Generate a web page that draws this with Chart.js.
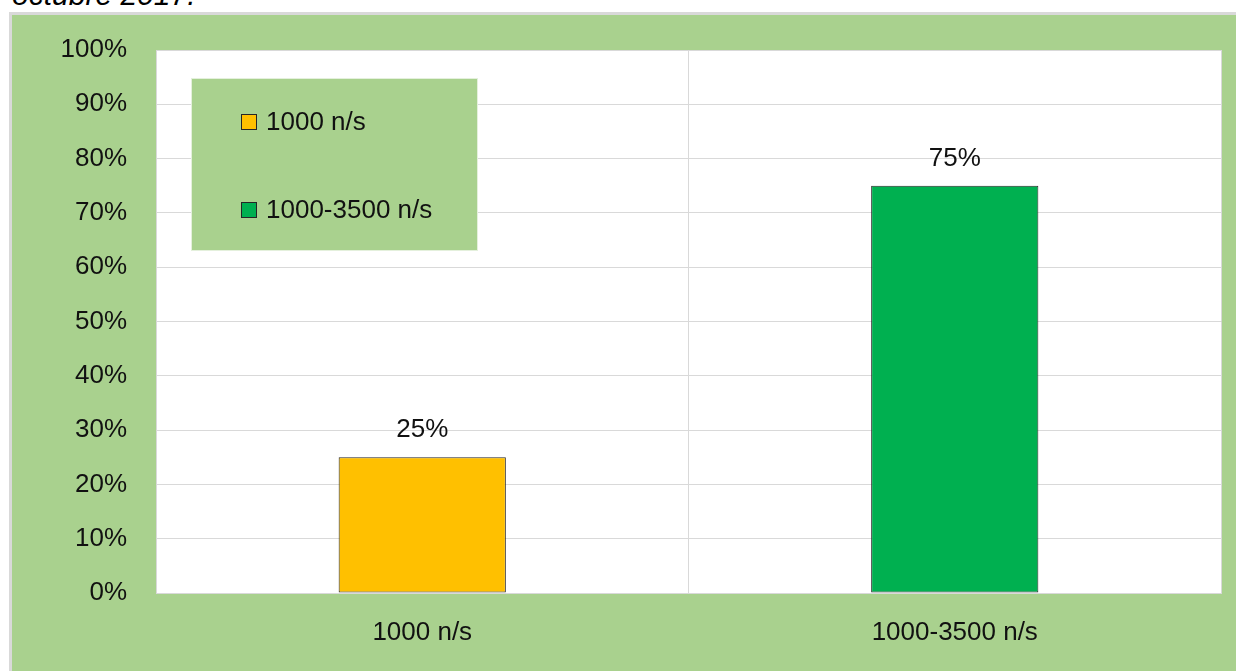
<!DOCTYPE html>
<html>
<head>
<meta charset="utf-8">
<script src="https://cdn.jsdelivr.net/npm/chart.js@4.4.1/dist/chart.umd.min.js"></script>
<style>
  html, body { margin: 0; padding: 0; background: #fff; overflow: hidden; }
  #caption { position: absolute; left: 12px; top: -20px; font: italic 30px "Liberation Sans", Arial, sans-serif; line-height: 30px; color: #000; white-space: nowrap; }
  #panel { position: absolute; left: 9px; top: 12px; width: 1240px; height: 700px; background: #A9D18E; border: 3px solid #D9D9D9; }
  #wrap { position: absolute; left: 0; top: 0; width: 1236px; height: 671px; }
</style>
</head>
<body>
<div id="caption">octubre 2017.</div>
<div id="panel"></div>
<div id="wrap"><canvas id="chart" width="1236" height="671"></canvas></div>
<script>
const FONT = "'Liberation Sans', Arial, sans-serif";
const SIZE = 26;
const TEXT = "#111";

const categories = ["1000 n/s", "1000-3500 n/s"];
const shares = [25, 75];
const barColors = ["#FFC000", "#00B050"];
const yTicks = [0, 10, 20, 30, 40, 50, 60, 70, 80, 90, 100];

// white plot area on the green panel
const plotBg = {
  id: "plotBg",
  beforeDraw(chart) {
    const { ctx, chartArea: a } = chart;
    ctx.save();
    ctx.fillStyle = "#fff";
    ctx.fillRect(a.left, a.top, a.width, a.height);
    ctx.restore();
  }
};

// values over the bars
const valueLabels = {
  id: "valueLabels",
  afterDatasetsDraw(chart) {
    const { ctx } = chart;
    const meta = chart.getDatasetMeta(0);
    ctx.save();
    ctx.font = `${SIZE}px ${FONT}`;
    ctx.fillStyle = TEXT;
    ctx.textAlign = "center";
    ctx.textBaseline = "middle";
    meta.data.forEach((bar, i) => ctx.fillText(shares[i] + "%", bar.x, bar.y - 27));
    ctx.restore();
  }
};

// legend box sitting inside the plot area
const boxLegend = {
  id: "boxLegend",
  afterDraw(chart) {
    const { ctx, chartArea: a } = chart;
    const x = a.left + 35, y = a.top + 28, w = 287, h = 173;
    ctx.save();
    ctx.fillStyle = "#A9D18E";
    ctx.fillRect(x, y, w, h);
    ctx.strokeStyle = "#E4F0DC";
    ctx.lineWidth = 1;
    ctx.strokeRect(x + 0.5, y + 0.5, w - 1, h - 1);
    ctx.font = `${SIZE}px ${FONT}`;
    ctx.textBaseline = "middle";
    categories.forEach((c, i) => {
      const cy = y + 44 + i * 88;
      ctx.fillStyle = barColors[i];
      ctx.fillRect(x + 50, cy - 8, 16, 16);
      ctx.strokeStyle = "#262626";
      ctx.strokeRect(x + 50.5, cy - 7.5, 15, 15);
      ctx.fillStyle = TEXT;
      ctx.textAlign = "left";
      ctx.fillText(c, x + 75, cy + 1);
    });
    ctx.restore();
  }
};

new Chart(document.getElementById("chart"), {
  type: "bar",
  data: {
    labels: categories,
    datasets: [{
      data: shares,
      backgroundColor: barColors,
      borderColor: "#262626",
      borderWidth: 1,
      borderSkipped: false,
      barPercentage: 1,
      categoryPercentage: 0.314
    }]
  },
  options: {
    responsive: false,
    animation: false,
    devicePixelRatio: 1,
    layout: { padding: { left: 0, top: 50, right: 15, bottom: 0 } },
    plugins: { legend: { display: false }, tooltip: { enabled: false } },
    scales: {
      x: {
        grid: { color: "#D9D9D9", lineWidth: 1, drawTicks: false },
        border: { color: "#D9D9D9", width: 1 },
        ticks: { color: TEXT, font: { family: FONT, size: SIZE }, padding: 24 },
        afterFit: (axis) => { axis.height = 78; }
      },
      y: {
        min: 0,
        max: 100,
        afterBuildTicks: (axis) => { axis.ticks = yTicks.map((v) => ({ value: v })); },
        grid: { color: "#D9D9D9", lineWidth: 1, drawTicks: false },
        border: { color: "#D9D9D9", width: 1 },
        ticks: { color: TEXT, font: { family: FONT, size: SIZE }, padding: 29, callback: (v) => v + "%" },
        afterFit: (axis) => { axis.width = 156; }
      }
    }
  },
  plugins: [plotBg, valueLabels, boxLegend]
});
</script>
</body>
</html>
